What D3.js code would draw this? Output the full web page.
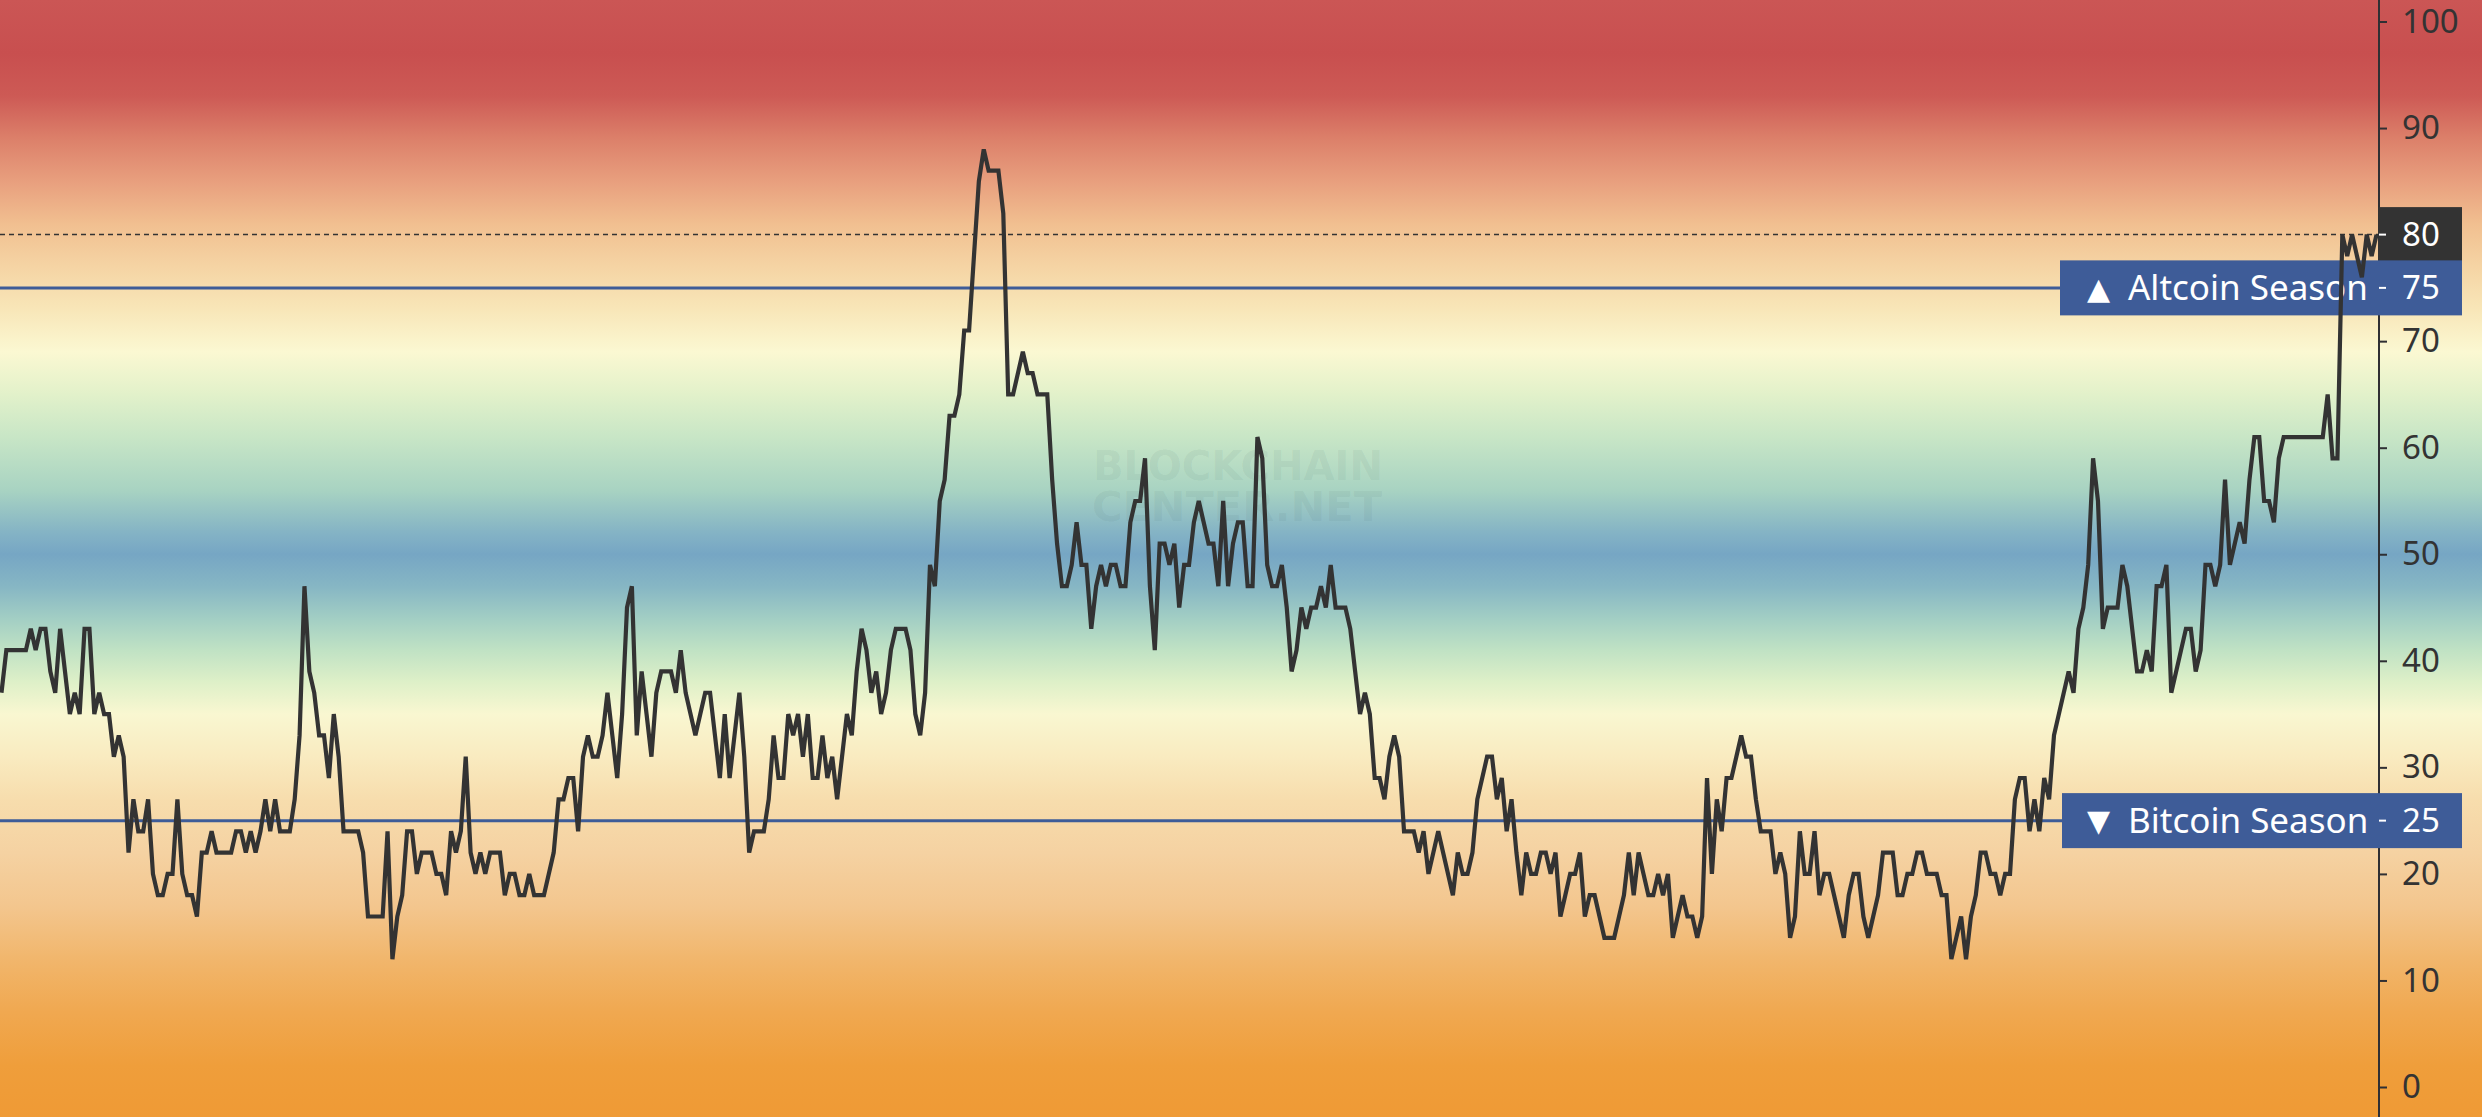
<!DOCTYPE html>
<html>
<head>
<meta charset="utf-8">
<script src="https://cdn.jsdelivr.net/npm/d3@7"></script>
<style>
  html, body { margin: 0; padding: 0; background: #ffffff; }
  svg { display: block; }
</style>
</head>
<body>
<svg id="chart" width="2488" height="1120"></svg>
<script>
// ---- Data (Altcoin Season Index, vertices of the series) ----
const days = [
  0,1,5,6,7,8,9,10,11,12,
  13,14,15,16,17,18,19,20,21,22,
  23,24,25,26,27,28,29,30,31,32,
  33,34,35,36,37,38,39,40,41,42,
  43,44,47,48,49,50,51,52,53,54,
  55,56,57,59,60,61,62,63,64,65,
  66,67,68,69,70,73,74,75,78,79,
  80,81,82,83,84,85,86,88,89,90,
  91,92,93,94,95,96,97,98,99,100,
  102,103,104,105,106,107,108,109,111,113,
  114,115,116,117,118,119,120,121,122,123,
  124,125,126,127,128,129,130,131,132,133,
  134,135,137,138,139,140,141,142,143,144,
  145,146,147,148,149,150,151,152,153,154,
  156,157,158,159,160,161,162,163,164,165,
  166,167,168,169,170,171,172,173,174,175,
  176,177,178,179,180,181,182,183,185,186,
  187,188,189,190,191,192,193,194,195,196,
  197,198,199,200,201,202,204,205,206,207,
  209,210,211,212,214,215,216,217,218,219,
  220,221,222,223,224,225,226,227,228,229,
  230,231,232,233,234,235,236,237,238,239,
  240,241,242,243,244,245,246,247,248,249,
  250,251,252,253,254,255,256,257,258,259,
  260,261,262,263,264,265,266,267,268,269,
  270,271,272,273,275,276,277,278,279,280,
  281,282,283,284,285,286,287,289,290,291,
  292,294,297,298,299,300,301,302,303,304,
  305,306,307,308,309,310,311,312,313,314,
  315,316,317,318,319,320,321,322,323,324,
  325,326,327,328,330,331,332,333,334,335,
  336,337,338,339,340,341,342,343,344,345,
  346,347,348,349,350,351,352,353,354,355,
  356,357,358,359,360,362,363,364,365,366,
  367,368,369,370,371,372,373,374,375,376,
  377,378,379,380,381,382,383,384,385,387,
  388,389,390,391,392,393,394,396,397,398,
  399,401,402,403,404,405,406,407,408,409,
  410,411,412,413,414,415,416,417,418,419,
  420,423,424,425,426,427,428,429,430,431,
  433,434,435,437,438,439,440,441,442,443,
  444,446,447,448,449,450,451,452,453,454,
  455,456,458,459,460,461,462,463,464,465,
  466,467,475,476,477,478,479,480,481,482,
  483,484,485,486
];
const values = [
  37,41,41,43,41,43,43,39,37,43,
  39,35,37,35,43,43,35,37,35,35,
  31,33,31,22,27,24,24,27,20,18,
  18,20,20,27,20,18,18,16,22,22,
  24,22,22,24,24,22,24,22,24,27,
  24,27,24,24,27,33,47,39,37,33,
  33,29,35,31,24,24,22,16,16,24,
  12,16,18,24,24,20,22,22,20,20,
  18,24,22,24,31,22,20,22,20,22,
  22,18,20,20,18,18,20,18,18,22,
  27,27,29,29,24,31,33,31,31,33,
  37,33,29,35,45,47,33,39,35,31,
  37,39,39,37,41,37,35,33,35,37,
  37,33,29,35,29,33,37,31,22,24,
  24,27,33,29,29,35,33,35,31,35,
  29,29,33,29,31,27,31,35,33,39,
  43,41,37,39,35,37,41,43,43,41,
  35,33,37,49,47,55,57,63,63,65,
  71,71,78,85,88,86,86,82,65,65,
  69,67,67,65,65,57,51,47,47,49,
  53,49,49,43,47,49,47,49,49,47,
  47,53,55,55,59,47,41,51,51,49,
  51,45,49,49,53,55,53,51,51,47,
  55,47,51,53,53,47,47,61,59,49,
  47,47,49,45,39,41,45,43,45,45,
  47,45,49,45,45,43,39,35,37,35,
  29,29,27,31,33,31,24,24,22,24,
  20,24,18,22,20,20,22,27,29,31,
  31,27,29,24,27,22,18,22,20,20,
  22,22,20,22,16,18,20,20,22,16,
  18,18,16,14,14,16,18,22,18,22,
  20,18,18,20,18,20,14,16,18,16,
  16,14,16,29,20,27,24,29,29,31,
  33,31,31,27,24,24,20,22,20,14,
  16,24,20,20,24,18,20,20,18,16,
  14,18,20,20,16,14,16,18,22,22,
  18,18,20,20,22,22,20,20,18,18,
  12,16,12,16,18,22,22,20,20,18,
  20,20,27,29,29,24,27,24,29,27,
  33,39,37,43,45,49,59,55,43,45,
  45,49,47,39,39,41,39,47,47,49,
  37,41,43,43,39,41,49,49,47,49,
  57,49,53,51,57,61,61,55,55,53,
  59,61,61,65,59,59,80,78,80,78,
  76,80,78,80
];
const yTicks = [0, 10, 20, 30, 40, 50, 60, 70, 80, 90, 100];
const altcoinLevel = 75;
const bitcoinLevel = 25;
const altcoinLabel = "Altcoin Season";
const bitcoinLabel = "Bitcoin Season";
const watermarkLines = ["BLOCKCHAIN", "CENTER.NET"];

// background gradient stops (value -> colour)
const gradValues = [106, 97, 93, 89, 85, 81, 77, 73, 69, 65, 61, 56, 52, 50, 47, 44, 41, 38, 35, 31, 27, 22, 17, 12, 7, 2, -4];
const gradColors = ["#cb5655","#c84f4f","#cd5a55","#dc806a","#e89f7e","#f1bf90","#f5d4a4","#f8e6b8","#fbf8d2","#e2f1ca","#c8e6c6","#a8d3c2","#84b3c5","#76a6c4","#86b6c4","#a2cec4","#c0e2c4","#def0c8","#f9f7d1","#f9ebc0","#f7ddad","#f5d2a2","#f3c68e","#f1b66c","#f0a850","#ef9e3b","#ef9a35"];

const series = days.map((d, i) => ({ d, v: values[i] }));

// ---- Layout ----
const W = 2488, H = 1120;
const plotRight = 2482, plotBottom = 1117;
const axisX = 2379;

const svg = d3.select("#chart");
const x = d3.scaleLinear().domain([-0.3, 486.3]).range([0, 2378]);
const y = d3.scaleLinear().domain([0, 100]).range([1087, 21.5]);

const defs = svg.append("defs");
const grad = defs.append("linearGradient")
  .attr("id", "bg").attr("x1", 0).attr("y1", 0).attr("x2", 0).attr("y2", 1);
gradValues.forEach((v, i) => {
  grad.append("stop")
    .attr("offset", Math.max(0, Math.min(1, y(v) / plotBottom)))
    .attr("stop-color", gradColors[i]);
});

svg.append("rect").attr("x", 0).attr("y", 0).attr("width", W).attr("height", H).attr("fill", "#ffffff");
svg.append("rect").attr("x", 0).attr("y", 0).attr("width", plotRight).attr("height", plotBottom).attr("fill", "url(#bg)");

// watermark
const wm = svg.append("g").attr("fill", "rgba(60,90,85,0.08)")
  .attr("font-family", "DejaVu Sans, sans-serif").attr("font-weight", "bold");
wm.append("text").attr("x", 1093).attr("y", 480).attr("font-size", 41)
  .attr("textLength", 290).attr("lengthAdjust", "spacingAndGlyphs").text(watermarkLines[0]);
wm.append("text").attr("x", 1092).attr("y", 521).attr("font-size", 41)
  .attr("textLength", 290).attr("lengthAdjust", "spacingAndGlyphs").text(watermarkLines[1]);

// dashed line at latest value
const lastValue = values[values.length - 1];
svg.append("line")
  .attr("x1", 0).attr("x2", axisX).attr("y1", y(lastValue)).attr("y2", y(lastValue))
  .attr("stroke", "#333").attr("stroke-width", 1.5).attr("stroke-dasharray", "5,4");

// season level lines
const blue = "#3e5c98";
[altcoinLevel, bitcoinLevel].forEach(v => {
  svg.append("line")
    .attr("x1", 0).attr("x2", 2062).attr("y1", y(v)).attr("y2", y(v))
    .attr("stroke", blue).attr("stroke-width", 3);
});

// axis
svg.append("line").attr("x1", axisX).attr("x2", axisX).attr("y1", 0).attr("y2", plotBottom)
  .attr("stroke", "#2f2f33").attr("stroke-width", 2);
const axis = d3.axisRight(y).tickValues(yTicks).tickSize(8).tickPadding(15).tickSizeOuter(0);
const gAxis = svg.append("g").attr("transform", `translate(${axisX},0)`).call(axis);
gAxis.select(".domain").remove();
gAxis.selectAll(".tick line").attr("stroke", "#2f2f33").attr("stroke-width", 2);
gAxis.selectAll(".tick text")
  .attr("fill", "#333").attr("font-family", "Noto Sans, sans-serif").attr("font-size", 33);

// label boxes
const boxH = 55;
function levelBox(v, x0, fill) {
  svg.append("rect").attr("x", x0).attr("y", y(v) - boxH / 2).attr("width", 2462 - x0).attr("height", boxH)
    .attr("fill", fill);
  svg.append("line").attr("x1", axisX).attr("x2", axisX + 7).attr("y1", y(v)).attr("y2", y(v))
    .attr("stroke", "#fff").attr("stroke-width", 2);
  svg.append("text").attr("x", 2402).attr("y", y(v)).attr("dy", "0.35em")
    .attr("fill", "#fff").attr("font-family", "Noto Sans, sans-serif").attr("font-size", 33)
    .text(v);
}
levelBox(lastValue, 2378, "#333333");
levelBox(altcoinLevel, 2060, blue);
levelBox(bitcoinLevel, 2062, blue);

function seasonText(v, arrow, label) {
  svg.append("text").attr("x", 2087).attr("y", y(v)).attr("dy", "0.36em")
    .attr("fill", "#fff").attr("font-family", "DejaVu Sans, sans-serif").attr("font-size", 30)
    .text(arrow);
  svg.append("text").attr("x", 2128).attr("y", y(v)).attr("dy", "0.36em")
    .attr("fill", "#fff").attr("font-family", "Noto Sans, sans-serif").attr("font-size", 35)
    .text(label);
}
seasonText(altcoinLevel, "\u25B2", altcoinLabel);
seasonText(bitcoinLevel, "\u25BC", bitcoinLabel);

// series line
const line = d3.line().x(p => x(p.d)).y(p => y(p.v));
svg.append("path").datum(series)
  .attr("d", line)
  .attr("fill", "none").attr("stroke", "#333333").attr("stroke-width", 4.2)
  .attr("stroke-linejoin", "miter").attr("stroke-miterlimit", 4);
</script>
</body>
</html>
